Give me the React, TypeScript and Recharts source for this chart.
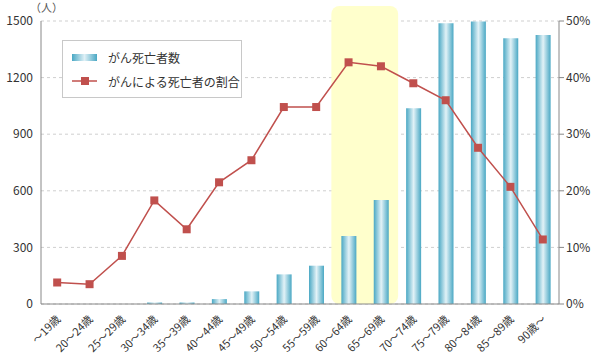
import {
  ComposedChart, Bar, Line, XAxis, YAxis, CartesianGrid, ReferenceArea,
} from 'recharts';

const ageGroups = [
  '～19歳', '20～24歳', '25～29歳', '30～34歳', '35～39歳', '40～44歳',
  '45～49歳', '50～54歳', '55～59歳', '60～64歳', '65～69歳', '70～74歳',
  '75～79歳', '80～84歳', '85～89歳', '90歳～',
];
const cancerDeaths = [0, 0, 0, 8, 8, 26, 67, 157, 203, 360, 551, 1038, 1488, 1498, 1408, 1426];
const cancerShare = [3.8, 3.5, 8.5, 18.3, 13.2, 21.5, 25.4, 34.8, 34.8, 42.7, 42.0, 39.0, 36.0, 27.6, 20.7, 11.4];
const countTicks = [0, 300, 600, 900, 1200, 1500];
const shareTicks = [0, 10, 20, 30, 40, 50];

const data = ageGroups.map((age, i) => ({
  age,
  deaths: cancerDeaths[i],
  share: cancerShare[i],
}));

const JP_FONT = '"Noto Sans CJK JP", "Noto Sans", sans-serif';
const RED = '#c0504d';

// highlighted band, stretched a little above the plot
const Highlight = (props: any) => {
  const { x, y, width, height } = props;
  return (
    <rect x={x - 1} y={y - 15} width={width + 2} height={height + 15}
      rx={8} ry={8} fill="#ffffcc" />
  );
};

const AgeTick = ({ x, y, payload }: any) => (
  <text x={x + 4} y={y + 8} transform={`rotate(-45, ${x + 4}, ${y + 8})`}
    textAnchor="end" fontSize={11} fill="#333" fontFamily={JP_FONT}>
    {payload.value}
  </text>
);

const LegendBox = () => (
  <div style={{
    position: 'absolute',
    left: 62,
    top: 40,
    border: '1px solid #c8c8c8',
    background: '#fff',
    width: 178,
    padding: '4px 0',
    fontFamily: JP_FONT,
    fontSize: 12,
    color: '#333',
    whiteSpace: 'nowrap',
  }}>
    <div style={{ display: 'flex', alignItems: 'center', height: 24 }}>
      <div style={{
        width: 25, height: 7, marginLeft: 9, marginRight: 11,
        background: 'linear-gradient(to right, #4aa8c4, #dff0f6 50%, #4aa8c4)',
      }} />
      がん死亡者数
    </div>
    <div style={{ display: 'flex', alignItems: 'center', height: 24 }}>
      <svg width={25} height={10} style={{ marginLeft: 9, marginRight: 11 }}>
        <line x1={0} y1={5} x2={25} y2={5} stroke={RED} strokeWidth={1.5} />
        <rect x={9} y={1} width={8} height={8} fill={RED} />
      </svg>
      がんによる死亡者の割合
    </div>
  </div>
);

export default function App() {
  return (
    <div style={{ position: 'absolute', left: 0, top: 0, width: 600, height: 361, background: '#fff' }}>
      <ComposedChart width={600} height={361} data={data}
        margin={{ top: 21, right: 0, left: 0, bottom: 0 }}>
        <defs>
          <linearGradient id="barGrad" x1="0" y1="0" x2="1" y2="0">
            <stop offset="0%" stopColor="#4aa8c4" />
            <stop offset="50%" stopColor="#e2f2f7" />
            <stop offset="100%" stopColor="#4aa8c4" />
          </linearGradient>
        </defs>
        <ReferenceArea yAxisId="left" x1="60～64歳" x2="65～69歳"
          shape={<Highlight />} ifOverflow="visible" />
        <CartesianGrid yAxisId="left" strokeDasharray="3 3" stroke="#cfcfcf"
          vertical={false} />
        <XAxis dataKey="age" height={57} interval={0} tickLine={false}
          axisLine={{ stroke: '#888' }} tick={<AgeTick />} />
        <YAxis yAxisId="left" width={41} domain={[0, 1500]} ticks={countTicks}
          tickLine={false} axisLine={{ stroke: '#888' }}
          tick={{ fontSize: 12, fill: '#333', fontFamily: JP_FONT }} />
        <YAxis yAxisId="right" orientation="right" width={41} domain={[0, 50]}
          ticks={shareTicks} tickFormatter={(v) => `${v}%`}
          tickLine={{ stroke: '#888' }} tickSize={5} axisLine={{ stroke: '#888' }}
          tick={{ fontSize: 12, fill: '#333', fontFamily: JP_FONT }} />
        <Bar yAxisId="left" dataKey="deaths" fill="url(#barGrad)" barSize={15}
          isAnimationActive={false} />
        <Line yAxisId="right" dataKey="share" stroke={RED} strokeWidth={1.5}
          isAnimationActive={false}
          dot={(p: any) => (
            <rect key={p.index} x={p.cx - 4} y={p.cy - 4} width={8} height={8}
              fill={RED} />
          )} />
        <text x={30} y={12} fontSize={11} fill="#555" fontFamily={JP_FONT}>（人）</text>
      </ComposedChart>
      <LegendBox />
    </div>
  );
}
